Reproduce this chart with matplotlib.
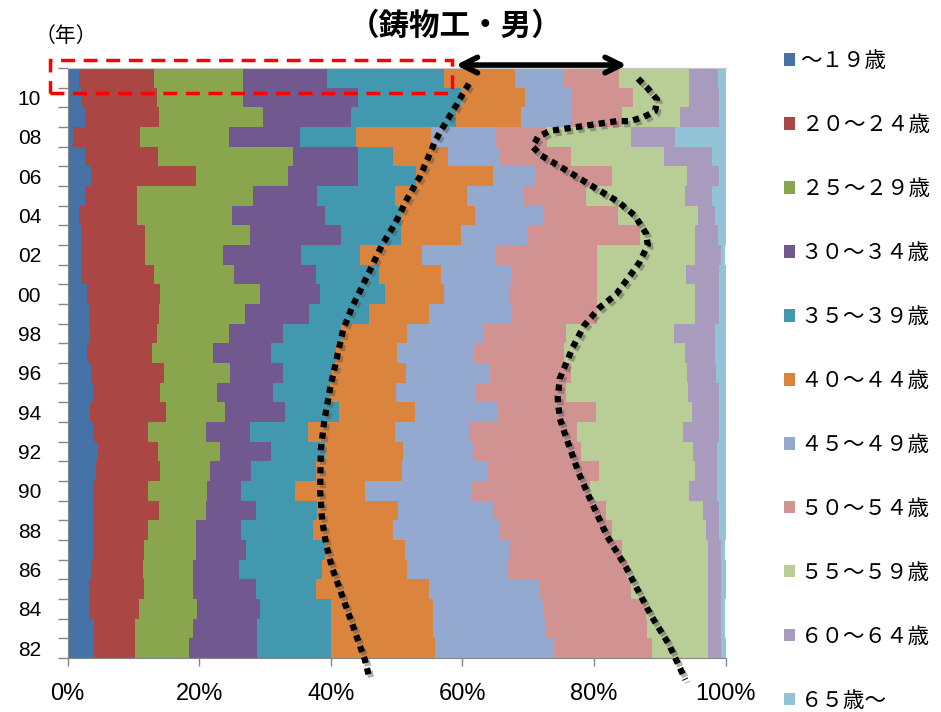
import numpy as np
import matplotlib
matplotlib.use('Agg')
import matplotlib.pyplot as plt
from matplotlib import font_manager
from matplotlib.patches import Patch, Rectangle
from matplotlib.transforms import offset_copy

# years 1982 .. 2011, one bar each
years = list(range(1982, 2012))
year_labels = [f"{y % 100:02d}" for y in years]

age_groups = ['～１９歳', '２０～２４歳', '２５～２９歳', '３０～３４歳', '３５～３９歳',
              '４０～４４歳', '４５～４９歳', '５０～５４歳', '５５～５９歳', '６０～６４歳',
              '６５歳～']
colors = ['#4572A7', '#AA4643', '#89A54E', '#71588F', '#4198AF', '#DB843D',
          '#93A9CF', '#D19392', '#B9CD96', '#A99BBD', '#92C3D6']

# share of workers (%) per age group, 1982 -> 2011
u19 = [4.0, 4.0, 3.3, 3.3, 3.6, 3.8, 3.8, 3.9, 3.9, 4.4, 4.7, 3.9, 3.4, 3.8, 3.6,
       2.9, 3.4, 3.3, 2.9, 2.1, 2.1, 2.1, 1.8, 2.7, 3.6, 2.7, 0.8, 2.7, 2.0, 1.7]
a20 = [6.3, 6.3, 7.5, 8.3, 7.8, 7.8, 8.5, 10.0, 8.4, 9.7, 9.0, 8.4, 11.5, 10.3, 11.1,
       10.0, 10.2, 10.6, 11.2, 11.1, 9.7, 9.7, 8.7, 7.8, 15.9, 11.0, 10.2, 11.2, 11.6, 11.5]
a25 = [8.1, 8.7, 8.9, 7.4, 7.6, 7.9, 7.2, 7.1, 8.9, 7.5, 9.5, 8.7, 9.0, 8.6, 10.0,
       9.2, 10.9, 13.0, 15.2, 12.1, 11.9, 16.0, 14.5, 17.7, 14.0, 20.6, 13.5, 15.8, 13.0, 13.5]
a30 = [10.4, 9.8, 9.6, 9.6, 7.1, 7.6, 6.8, 7.6, 5.1, 6.3, 7.8, 6.8, 9.1, 8.5, 8.0,
       8.9, 8.2, 9.8, 9.1, 12.4, 11.8, 13.7, 14.2, 9.7, 10.6, 9.8, 10.8, 13.4, 17.5, 12.8]
a35 = [11.2, 11.2, 10.7, 9.2, 12.6, 12.0, 11.0, 9.3, 8.2, 9.9, 8.2, 8.8, 8.3, 8.7, 7.5,
       9.8, 8.8, 9.1, 9.8, 9.7, 8.9, 9.2, 11.5, 11.8, 8.8, 5.4, 8.5, 16.0, 15.7, 17.7]
a40 = [15.9, 15.6, 15.6, 17.1, 12.9, 12.2, 12.2, 12.3, 10.7, 13.0, 11.8, 13.1, 11.5, 10.1, 11.3,
       9.2, 10.1, 9.1, 9.0, 9.3, 9.5, 9.1, 11.3, 11.0, 11.8, 8.3, 11.4, 9.8, 9.8, 10.8]
a45 = [18.1, 16.9, 16.8, 16.7, 15.4, 15.9, 16.2, 14.6, 16.2, 13.1, 10.7, 11.4, 12.6, 12.0, 12.7,
       11.8, 11.7, 12.7, 10.0, 10.9, 11.1, 10.1, 10.2, 8.6, 6.4, 7.9, 9.8, 7.6, 6.9, 7.5]
a50 = [14.8, 15.5, 15.5, 14.0, 18.0, 17.1, 17.0, 17.0, 18.0, 16.8, 16.4, 16.4, 14.9, 13.7, 12.3,
       13.7, 12.5, 12.8, 13.2, 12.8, 15.4, 17.1, 11.5, 9.5, 11.6, 10.8, 7.9, 7.8, 9.5, 8.3]
a55 = [8.6, 9.4, 9.4, 11.7, 12.3, 13.0, 14.4, 14.8, 15.0, 14.7, 17.0, 16.0, 14.6, 18.6, 17.6,
       18.3, 16.4, 15.0, 15.0, 13.6, 15.0, 8.4, 12.1, 15.0, 11.5, 14.2, 12.7, 8.8, 8.4, 10.6]
a60 = [1.9, 1.9, 2.0, 2.0, 2.0, 2.0, 1.9, 2.4, 4.3, 3.3, 3.6, 5.5, 4.1, 4.7, 4.5,
       4.6, 6.2, 3.6, 3.6, 5.0, 3.9, 3.4, 2.6, 4.2, 4.8, 7.3, 6.7, 5.9, 4.6, 4.5]
a65 = [0.7, 0.7, 0.7, 0.7, 0.7, 0.7, 1.0, 1.0, 1.3, 1.3, 1.3, 1.0, 1.0, 1.0, 1.4,
       1.6, 1.6, 1.0, 1.0, 1.0, 0.7, 1.2, 1.6, 2.0, 1.0, 2.0, 7.7, 1.0, 1.0, 1.1]
shares = [u19, a20, a25, a30, a35, a40, a45, a50, a55, a60, a65]

# hand-drawn dotted guide curves (x in %, y in bar index from 1982)
left_curve_x = [61.0, 60.1, 58.9, 57.8, 56.9, 55.9, 53.6, 51.7, 49.8, 47.8, 45.8, 43.2,
                41.9, 40.7, 39.9, 39.0, 38.5, 38.4, 38.7, 39.3, 40.2, 41.6, 43.2, 45.2,
                45.8]
left_curve_y = [28.7, 28.2, 27.5, 26.9, 26.4, 25.8, 24.0, 22.9, 21.6, 20.5, 19.1, 17.3,
                16.2, 14.4, 13.2, 11.5, 10.1, 8.0, 6.5, 5.3, 4.1, 2.8, 1.3, -0.6,
                -1.4]
right_curve_x = [86.7, 88.2, 89.6, 89.3, 87.5, 85.5, 83.5, 81.4, 79.4, 77.4, 75.3, 73.3,
                 71.5, 70.7, 72.0, 75.8, 79.7, 83.7, 86.2, 87.9, 88.2, 86.9, 85.6, 83.4,
                 80.8, 78.5, 76.8, 74.8, 74.5, 74.8, 75.8, 77.7, 79.4, 82.0, 84.9, 86.9,
                 88.8, 91.4, 93.9]
right_curve_y = [28.96, 28.46, 27.9, 27.3, 27.0, 26.8, 26.8, 26.7, 26.6, 26.5, 26.4, 26.3,
                 26.0, 25.5, 25.05, 24.3, 23.5, 22.7, 22.0, 21.1, 20.5, 19.6, 19.0, 18.0,
                 17.3, 16.4, 15.3, 13.7, 12.7, 11.7, 10.7, 8.9, 7.6, 5.7, 4.1, 2.8,
                 1.6, 0.2, -1.6]

title_text = '（鋳物工・男）'
year_unit = '（年）'

plt.rcParams['font.family'] = ['Noto Sans CJK JP', 'DejaVu Sans']
installed = {f.name for f in font_manager.fontManager.ttflist}
tick_font = 'Liberation Sans Narrow' if 'Liberation Sans Narrow' in installed else 'Liberation Sans'

fig = plt.figure(figsize=(9.41, 7.12), dpi=100)
ax = fig.add_axes([67.5 / 941, 1 - 658 / 712, 658 / 941, 590 / 712])

data = np.array(shares, dtype=float)
data = data / data.sum(axis=0) * 100
ypos = np.arange(len(years))
left = np.zeros(len(years))
for vals, color, label in zip(data, colors, age_groups):
    ax.barh(ypos, vals, left=left, height=1.0, color=color, label=label,
            linewidth=0)
    left += vals

ax.set_xlim(0, 100)
ax.set_ylim(-0.5, len(years) - 0.5)

ax.set_xticks(range(0, 101, 20))
ax.set_xticklabels([f"{v}%" for v in range(0, 101, 20)],
                   fontsize=17, family=tick_font)
ax.tick_params(axis='x', direction='out', length=6, width=1,
               color='#868686', pad=12)

ax.set_yticks(np.arange(-0.5, len(years), 1.0))
ax.set_yticklabels([])
ax.set_yticks(ypos[::2], minor=True)
ax.set_yticklabels(year_labels[::2], minor=True, fontsize=15, family=tick_font)
ax.tick_params(axis='y', which='major', direction='out', length=7,
               width=1, color='#868686')
ax.tick_params(axis='y', which='minor', length=0, pad=19)

for side in ['left', 'bottom']:
    ax.spines[side].set_color('#868686')
ax.spines['top'].set_color('#c8c8c8')
ax.spines['right'].set_visible(False)

# dotted guides with a soft shadow
shadow = offset_copy(ax.transData, fig=fig, x=2.5, y=-3, units='dots')
for cx, cy in [(left_curve_x, left_curve_y), (right_curve_x, right_curve_y)]:
    ax.plot(cx, cy, color='#555555', alpha=0.45, lw=4.5, ls=(0, (1, 0.85)),
            dash_capstyle='butt', transform=shadow, clip_on=False, zorder=4)
    ax.plot(cx, cy, color='black', lw=4.5, ls=(0, (1, 0.85)),
            dash_capstyle='butt', clip_on=False, zorder=5)

# double arrow on top edge
ax.annotate('', xy=(85.0, 29.65), xytext=(59.0, 29.65),
            arrowprops=dict(arrowstyle='<->', color='black', lw=4,
                            mutation_scale=28, shrinkA=0, shrinkB=0),
            annotation_clip=False, zorder=6)

# red dashed box around the latest year
ax.add_patch(Rectangle((-2.6, 28.25), 61.0, 1.65, fill=False,
                       edgecolor='#ff0000', lw=2.5, ls=(0, (4, 2.5)),
                       clip_on=False, zorder=6))

fig.text(456 / 941, 1 - 26 / 712, title_text, ha='center', va='center',
         fontsize=22, fontweight='bold')
fig.text(66 / 941, 1 - 36 / 712, year_unit, ha='center', va='center',
         fontsize=15)

handles = [Patch(facecolor=c, edgecolor='none') for c in colors]
fig.legend(handles, age_groups, loc='upper left',
           bbox_to_anchor=(784 / 941, 1 - 50 / 712), frameon=False,
           fontsize=15.5, handlelength=0.52, handleheight=0.52,
           handletextpad=0.25, labelspacing=1.95, borderpad=0,
           borderaxespad=0)

fig.savefig('out.png', dpi=100)
